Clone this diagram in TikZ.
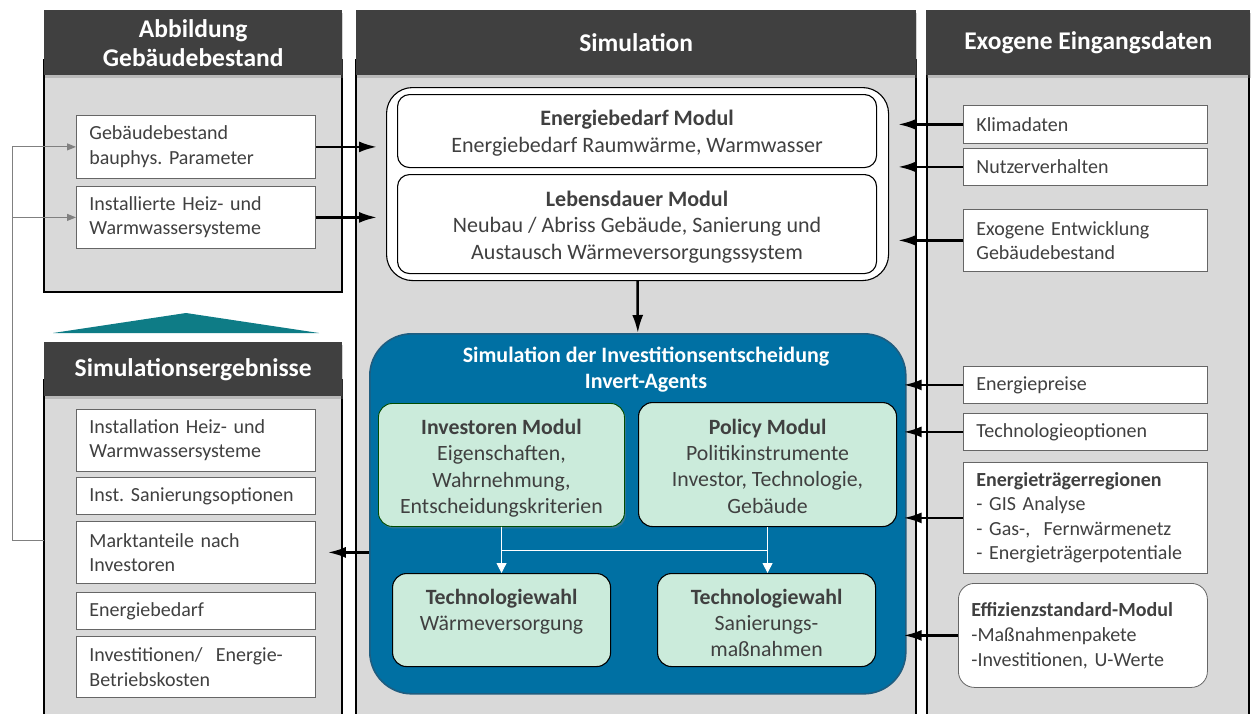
\documentclass[tikz,border=0pt]{standalone}
\usepackage{fontspec}
\setmainfont{Carlito}
\usetikzlibrary{arrows.meta,shadows}
\definecolor{hdr}{HTML}{404040}
\definecolor{panelgray}{HTML}{D9D9D9}
\definecolor{txt}{HTML}{404040}
\definecolor{agentblue}{HTML}{0070A3}
\definecolor{agentedge}{HTML}{1F5D80}
\definecolor{mint}{HTML}{CBEBDB}
\definecolor{tealtri}{HTML}{0E7C86}
\definecolor{fbgray}{HTML}{808080}
\newcommand{\topstrut}{\rule{0pt}{26pt}}
\tikzset{
  hdrbox/.style={fill=hdr, text=white, font=\fontsize{25.5}{29}\selectfont\bfseries,
    align=center, inner sep=0pt, anchor=north west,
    drop shadow={shadow xshift=1pt, shadow yshift=-2.5pt, opacity=0.35}},
  panelbox/.style={fill=panelgray, draw=black, line width=1.2pt},
  wbox/.style={fill=white, draw=black!60, line width=0.8pt, text=txt,
    font=\fontsize{20}{24.5}\selectfont, align=left, anchor=north west,
    inner xsep=13pt, inner ysep=0pt},
  modbox/.style={fill=white, draw=black, line width=1.1pt, rounded corners=12pt,
    text=txt, font=\fontsize{22}{26.5}\selectfont, align=center, anchor=north west,
    inner sep=0pt},
  greenbox/.style={fill=mint, draw=black, line width=1.1pt, rounded corners=14pt,
    text=txt, font=\fontsize{21.8}{26.3}\selectfont, align=center, anchor=north west,
    inner sep=0pt},
  barrow/.style={draw=black, line width=2.5pt, -{Latex[length=18pt,width=11pt]}},
  warrow/.style={draw=white, line width=0.9pt, -{Triangle[length=10pt,width=10pt]}},
  wline/.style={draw=white, line width=0.9pt},
  fbline/.style={draw=fbgray, line width=1pt},
  fbarrow/.style={draw=fbgray, line width=1pt, -{Triangle[length=9pt,width=7pt]}},
}
\begin{document}
\frenchspacing
\begin{tikzpicture}[x=1pt,y=-1pt]
\useasboundingbox (0,0) rectangle (1252,713);
\clip (0,0) rectangle (1252,713);
\fill[white] (0,0) rectangle (1252,713);

% panels
\draw[panelbox] (44,60) rectangle (342,292);
\draw[panelbox] (44,380) rectangle (342,730);
\draw[panelbox] (356,60) rectangle (916,730);
\draw[panelbox] (927,60) rectangle (1249,730);

% headers
\node[hdrbox, minimum width=298pt, minimum height=65pt] (h1) at (44,10) {Abbildung\\Gebäudebestand};
\node[hdrbox, minimum width=560pt, minimum height=65pt] (h2) at (356,10) {Simulation};
\node[hdrbox, minimum width=324pt, minimum height=65pt] (h3) at (926,10) {Exogene Eingangsdaten};
\node[hdrbox, minimum width=298pt, minimum height=54pt] (h4) at (44,342) {Simulationsergebnisse};

% teal triangle
\fill[tealtri] (53,333) -- (186,313) -- (319,333) -- cycle;

% left top boxes
\node[wbox, text width=213pt, minimum height=63pt] (gb) at (76,115) {Gebäudebestand\\bauphys. Parameter};
\node[wbox, text width=213pt, minimum height=62pt] (ih) at (76,186) {Installierte Heiz- und\\Warmwassersysteme};

% left bottom boxes
\node[wbox, text width=213pt, minimum height=62pt] (r1) at (76,409) {Installation Heiz- und\\Warmwassersysteme};
\node[wbox, text width=213pt, minimum height=37pt] (r2) at (76,477) {Inst. Sanierungsoptionen};
\node[wbox, text width=213pt, minimum height=62pt] (markt) at (76,521) {Marktanteile nach\\Investoren};
\node[wbox, text width=213pt, minimum height=37pt] (r4) at (76,592) {Energiebedarf};
\node[wbox, text width=213pt, minimum height=61pt] (r5) at (76,636) {Investitionen/\ \ Energie-\\Betriebskosten};

% simulation outer box and modules
\node[fill=white, draw=black, line width=1.1pt, rounded corners=26pt, anchor=north west,
  minimum width=502pt, minimum height=193pt, inner sep=0pt] (simouter) at (386,87) {};
\node[modbox, minimum width=479pt, minimum height=73pt] (ebm) at (397,94)
  {\rule{0pt}{20pt}\textbf{Energiebedarf Modul}\\Energiebedarf Raumwärme, Warmwasser};
\node[modbox, minimum width=479pt, minimum height=99pt] (ldm) at (397,174)
  {\rule{0pt}{21pt}\textbf{Lebensdauer Modul}\\Neubau / Abriss Gebäude, Sanierung und\\Austausch Wärmeversorgungssystem};

% agent box
\node[fill=agentblue, draw=agentedge, line width=1.6pt, rounded corners=42pt, anchor=north west,
  minimum width=536pt, minimum height=360pt, inner sep=0pt] (agent) at (369,333) {};
\node[text=white, font=\fontsize{22}{26}\selectfont\bfseries, align=center, inner sep=0pt] (agtitle)
  at (646,370) {Simulation der Investitionsentscheidung\\Invert-Agents};

\node[greenbox, draw=black!50!green!60!black, line width=0.9pt, minimum width=246pt, minimum height=123pt,
  drop shadow={shadow xshift=1.5pt, shadow yshift=-2pt, opacity=0.4}] (invm) at (378,403)
  {\topstrut\textbf{Investoren Modul}\\Eigenschaften,\\Wahrnehmung,\\Entscheidungskriterien\strut};
\node[greenbox, minimum width=258pt, minimum height=124pt] (polm) at (638,402)
  {\topstrut\textbf{Policy Modul}\\Politikinstrumente\\Investor, Technologie,\\Gebäude\strut};
\node[greenbox, minimum width=218pt, minimum height=93pt] (tw1) at (392,573)
  {\rule{0pt}{29pt}\textbf{Technologiewahl}\\Wärmeversorgung\\\strut};
\node[greenbox, minimum width=218pt, minimum height=93pt] (tw2) at (657,573)
  {\rule{0pt}{29pt}\textbf{Technologiewahl}\\Sanierungs-\\maßnahmen\strut};

\coordinate (hy) at (0,550);
\draw[warrow] (invm.south) -- (tw1.north);
\draw[warrow] (polm.south) -- (polm.south |- tw2.north);
\draw[wline] (invm.south |- hy) -- (polm.south |- hy);

% right boxes
\node[wbox, text width=218pt, minimum height=38pt] (klima) at (963,105) {Klimadaten};
\node[wbox, text width=218pt, minimum height=37pt] (nutz) at (963,148) {Nutzerverhalten};
\node[wbox, text width=218pt, minimum height=62pt] (exo) at (963,209) {Exogene Entwicklung\\Gebäudebestand};
\node[wbox, text width=218pt, minimum height=37pt] (epr) at (963,366) {Energiepreise};
\node[wbox, text width=218pt, minimum height=37pt] (topt) at (963,413) {Technologieoptionen};
\node[wbox, text width=218pt, minimum height=111pt] (etr) at (963,462)
  {\textbf{Energieträgerregionen}\\-~GIS Analyse\\-~Gas-,\ \ Fernwärmenetz\\-~Energieträgerpotentiale};
\node[wbox, rounded corners=16pt, text width=223pt, minimum height=104pt, inner xsep=13pt] (eff) at (958,583)
  {\textbf{Effizienzstandard-Modul}\\[1pt]-Maßnahmenpakete\\-Investitionen, U-Werte};

% arrows left -> simulation
\draw[barrow, shorten >=9pt] (gb.east) -- (gb.east -| simouter.west);
\draw[barrow, shorten >=9pt] (ih.east) -- (ih.east -| simouter.west);
% arrows right -> simulation
\draw[barrow, shorten >=9pt] (klima.west) -- (klima.west -| simouter.east);
\draw[barrow, shorten >=9pt] (nutz.west) -- (nutz.west -| simouter.east);
\draw[barrow, shorten >=9pt] (exo.west) -- (exo.west -| simouter.east);
% down arrow
\draw[barrow] (simouter.south) -- (agent.north);
% right -> agent
\draw[barrow, shorten >=-3pt] (epr.west) -- (epr.west -| agent.east);
\draw[barrow, shorten >=-3pt] (topt.west) -- (topt.west -| agent.east);
\draw[barrow, shorten >=-3pt] (etr.west) -- (etr.west -| agent.east);
\draw[barrow, shorten >=-3pt] (eff.west) -- (eff.west -| agent.east);
% agent -> results
\draw[barrow, shorten >=12pt] (markt.east -| agent.west) -- (markt.east);

% feedback loop
\coordinate (fbstart) at (44,540);
\coordinate (fbcorner) at (12,540);
\draw[fbline] (fbstart) -- (fbcorner) -- (fbcorner |- gb.west);
\draw[fbarrow] (fbcorner |- gb.west) -- (gb.west);
\draw[fbarrow] (fbcorner |- ih.west) -- (ih.west);
\end{tikzpicture}
\end{document}
